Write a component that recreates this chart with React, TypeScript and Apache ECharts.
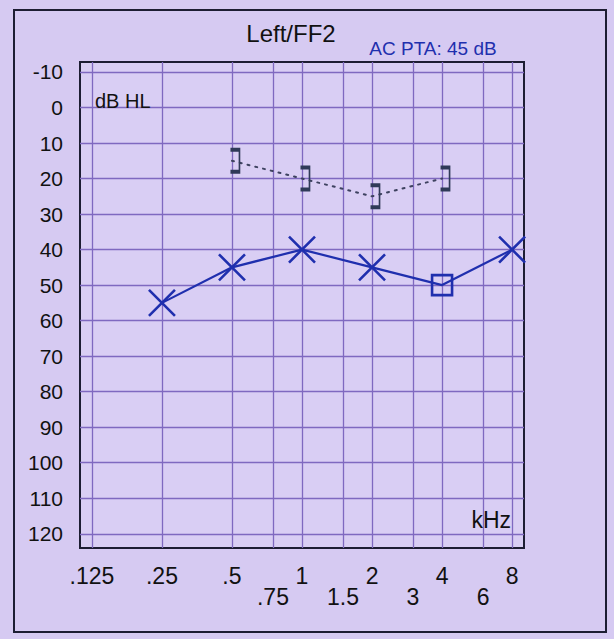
import React, { useEffect, useRef } from "react";
import * as echarts from "echarts";

const octaveFreqs = [0.125, 0.25, 0.5, 1, 2, 4, 8];
const octaveLabels = [".125", ".25", ".5", "1", "2", "4", "8"];
const midFreqs = [0.75, 1.5, 3, 6];
const midLabels = [".75", "1.5", "3", "6"];
const dbTicks = [-10, 0, 10, 20, 30, 40, 50, 60, 70, 80, 90, 100, 110, 120];

const acFreqs = [0.25, 0.5, 1, 2, 4, 8];
const acLevels = [55, 45, 40, 45, 50, 40];
const acMarks = ["x", "x", "x", "x", "square", "x"];

const bcFreqs = [0.5, 1, 2, 4];
const bcLevels = [15, 20, 25, 20];

const BG = "#d6caf2";
const GRID = "#7f69c0";
const DARK = "#1d1d33";
const BLUE = "#1f2fae";
const X_PATH = "path://M0 0L20 20M20 0L0 20";
const BRACKET_PATH = "path://M0 0L9 0L9 22L0 22";

const lg = (f: number) => Math.log2(f);

function labelFor(freqs: number[], labels: string[]) {
  return (v: number) => {
    const i = freqs.findIndex((f) => Math.abs(lg(f) - v) < 1e-6);
    return i >= 0 ? labels[i] : "";
  };
}

export default function App() {
  const ref = useRef<HTMLDivElement>(null);
  useEffect(() => {
    if (!ref.current) return;
    const chart = echarts.init(ref.current, null, { renderer: "svg" });
    const font = "'Liberation Sans', Arial, sans-serif";
    const baseX = {
      type: "value" as const,
      min: -3.17,
      max: 3.17,
      position: "bottom" as const,
    };
    chart.setOption({
      animation: false,
      backgroundColor: BG,
      textStyle: { fontFamily: font },
      grid: {
        left: 80,
        top: 62,
        right: 90,
        bottom: 91,
        show: true,
        backgroundColor: "#d9cef4",
        borderColor: DARK,
        borderWidth: 2,
      },
      xAxis: [
        {
          ...baseX,
          axisLine: { show: false },
          axisTick: { show: false, customValues: octaveFreqs.map(lg) },
          splitLine: { show: true, lineStyle: { color: GRID, width: 1.3 } },
          axisLabel: {
            customValues: octaveFreqs.map(lg),
            formatter: labelFor(octaveFreqs, octaveLabels),
            margin: 16,
            fontSize: 23,
            color: "#111",
            fontFamily: font,
          },
        },
        {
          ...baseX,
          axisLine: { show: false },
          axisTick: { show: false, customValues: midFreqs.map(lg) },
          splitLine: { show: true, lineStyle: { color: GRID, width: 1.3 } },
          axisLabel: {
            customValues: midFreqs.map(lg),
            formatter: labelFor(midFreqs, midLabels),
            margin: 37,
            fontSize: 23,
            color: "#111",
            fontFamily: font,
          },
        },
      ],
      yAxis: {
        type: "value",
        inverse: true,
        min: -12.8,
        max: 124,
        axisLine: { show: false },
        axisTick: { show: false, customValues: dbTicks },
        splitLine: { show: true, lineStyle: { color: GRID, width: 1.3 } },
        axisLabel: {
          customValues: dbTicks,
          margin: 17,
          fontSize: 21,
          color: "#111",
          fontFamily: font,
        },
      },
      graphic: [
        {
          type: "rect",
          shape: { x: 14, y: 10, width: 592, height: 622 },
          style: { fill: "none", stroke: DARK, lineWidth: 2 },
          z: 10,
        },
        {
          type: "text",
          x: 291,
          y: 33,
          style: {
            text: "Left/FF2",
            font: `24px ${font}`,
            fill: "#111",
            align: "center",
            verticalAlign: "middle",
          },
        },
        {
          type: "text",
          x: 433,
          y: 48,
          style: {
            text: "AC PTA: 45 dB",
            font: `19px ${font}`,
            fill: BLUE,
            align: "center",
            verticalAlign: "middle",
          },
          z: 10,
        },
        {
          type: "text",
          x: 95,
          y: 101,
          style: {
            text: "dB HL",
            font: `20px ${font}`,
            fill: "#111",
            align: "left",
            verticalAlign: "middle",
          },
          z: 10,
        },
        {
          type: "text",
          x: 511,
          y: 520,
          style: {
            text: "kHz",
            font: `23px ${font}`,
            fill: "#111",
            align: "right",
            verticalAlign: "middle",
          },
          z: 10,
        },
      ],
      series: [
        {
          type: "line",
          name: "AC",
          xAxisIndex: 0,
          data: acFreqs.map((f, i) => {
            const sq = acMarks[i] === "square";
            return {
              value: [lg(f), acLevels[i]],
              symbol: sq ? "rect" : X_PATH,
              symbolSize: sq ? 20 : 26,
            };
          }),
          lineStyle: { color: BLUE, width: 2.2 },
          itemStyle: { color: "transparent", borderColor: BLUE, borderWidth: 2.6 },
          z: 5,
        },
        {
          type: "line",
          name: "BC",
          xAxisIndex: 0,
          data: bcFreqs.map((f, i) => [lg(f), bcLevels[i]]),
          symbol: BRACKET_PATH,
          symbolSize: [9, 22],
          symbolOffset: [3, 0],
          lineStyle: { color: "#3e4260", width: 2, type: [2, 6], cap: "round" },
          itemStyle: { color: "transparent", borderColor: "#2f3a58", borderWidth: 2.6 },
          z: 5,
        },
      ],
    });
    return () => chart.dispose();
  }, []);
  return (
    <div
      style={{ position: "fixed", left: 0, top: 0, width: 614, height: 639, background: BG }}
    >
      <div ref={ref} style={{ width: 614, height: 639 }} />
    </div>
  );
}
